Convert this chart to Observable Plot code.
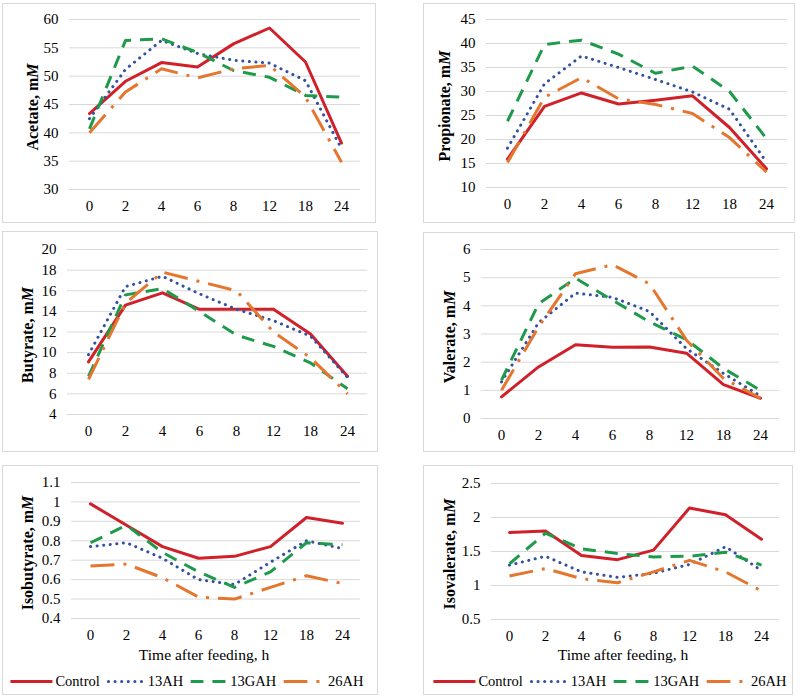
<!DOCTYPE html>
<html><head><meta charset="utf-8">
<script src="https://cdn.jsdelivr.net/npm/d3@7"></script>
<script src="https://cdn.jsdelivr.net/npm/@observablehq/plot@0.6"></script>
<style>
body{margin:0;background:#fff;font-family:"Liberation Serif","Tinos","DejaVu Serif",serif;color:#000;}
#root{position:relative;width:800px;height:700px;overflow:hidden;}
.box{position:absolute;box-sizing:border-box;border:1px solid #d9d9d9;}
.plot{position:absolute;}
.plot svg, .plot svg text{font-family:"Liberation Serif","Tinos","DejaVu Serif",serif !important;}
.ylab{position:absolute;transform:translate(-50%,-50%) rotate(-90deg);white-space:nowrap;font-weight:bold;font-size:16px;}
.xlab{position:absolute;transform:translate(-50%,-50%);white-space:nowrap;font-size:15.5px;}
.legend{position:absolute;transform:translate(-50%,-50%);display:flex;align-items:center;white-space:nowrap;font-size:14.5px;}
.legend .item{display:flex;align-items:center;margin-right:7px;}
.legend .item:last-child{margin-right:0;}
.legend svg{margin-right:3px;}
</style>
</head><body><div id="root"></div>
<script>
// ---------- data ----------
const times = ["0","2","4","6","8","12","18","24"];
const seriesNames = ["Control","13AH","13GAH","26AH"];

const acetateControl = [43.4, 49.1, 52.4, 51.6, 55.7, 58.5, 52.5, 38.2];
const acetate13AH    = [42.5, 51.2, 56.3, 54.0, 52.8, 52.3, 49.2, 37.2];
const acetate13GAH   = [40.7, 56.3, 56.6, 54.2, 51.0, 49.8, 46.6, 46.3];
const acetate26AH    = [40.0, 47.2, 51.3, 49.7, 51.3, 51.9, 46.3, 34.8];

const propionateControl = [15.9, 26.9, 29.7, 27.4, 28.2, 29.1, 22.5, 13.9];
const propionate13AH    = [18.2, 31.6, 37.4, 35.0, 32.5, 29.9, 26.3, 15.3];
const propionate13GAH   = [23.8, 39.8, 40.7, 37.8, 33.8, 35.3, 30.0, 20.2];
const propionate26AH    = [15.2, 28.8, 32.9, 28.5, 27.3, 25.4, 20.4, 13.2];

const butyrateControl = [9.1, 14.6, 15.8, 14.2, 14.2, 14.2, 11.8, 7.7];
const butyrate13AH    = [9.8, 16.4, 17.4, 15.7, 14.2, 13.1, 11.6, 7.6];
const butyrate13GAH   = [7.7, 15.6, 16.2, 14.0, 11.7, 10.6, 9.0, 6.5];
const butyrate26AH    = [7.4, 14.8, 17.8, 16.9, 16.0, 12.0, 9.5, 6.0];

const valerateControl = [0.77, 1.83, 2.62, 2.53, 2.54, 2.32, 1.20, 0.72];
const valerate13AH    = [1.30, 3.40, 4.45, 4.30, 3.80, 2.48, 1.60, 0.80];
const valerate13GAH   = [1.36, 4.07, 4.98, 4.20, 3.43, 2.80, 1.78, 1.00];
const valerate26AH    = [1.00, 3.25, 5.14, 5.46, 4.78, 2.78, 1.42, 0.72];

const isobutyrateControl = [0.99, 0.88, 0.77, 0.71, 0.72, 0.77, 0.92, 0.89];
const isobutyrate13AH    = [0.77, 0.79, 0.71, 0.60, 0.575, 0.69, 0.80, 0.76];
const isobutyrate13GAH   = [0.79, 0.88, 0.74, 0.64, 0.56, 0.64, 0.79, 0.78];
const isobutyrate26AH    = [0.67, 0.68, 0.61, 0.51, 0.50, 0.56, 0.62, 0.58];

const isovalerateControl = [1.78, 1.80, 1.44, 1.38, 1.52, 2.14, 2.04, 1.68];
const isovalerate13AH    = [1.30, 1.43, 1.20, 1.12, 1.18, 1.31, 1.57, 1.22];
const isovalerate13GAH   = [1.32, 1.77, 1.54, 1.47, 1.42, 1.43, 1.49, 1.30];
const isovalerate26AH    = [1.14, 1.25, 1.10, 1.04, 1.20, 1.37, 1.20, 0.92];

const acetateTicks     = [30, 35, 40, 45, 50, 55, 60];
const propionateTicks  = [10, 15, 20, 25, 30, 35, 40, 45];
const butyrateTicks    = [4, 6, 8, 10, 12, 14, 16, 18, 20];
const valerateTicks    = [0, 1, 2, 3, 4, 5, 6];
const isobutyrateTicks = [0.4, 0.5, 0.6, 0.7, 0.8, 0.9, 1.0, 1.1];
const isovalerateTicks = [0.5, 1.0, 1.5, 2.0, 2.5];

const xTitle = "Time after feeding, h";

// ---------- styles ----------
const colors  = ["#d0202a", "#33519f", "#1f9a4a", "#e4762e"];
const dashes  = [null, "0.1,6.5", "13,9", "24,9,3,9"];
const caps    = ["round", "round", "butt", "butt"];
const FONT = "'Liberation Serif','Tinos','DejaVu Serif',serif";

// ---------- layout ----------
const panels = [
  {name:"Acetate", values:[acetateControl,acetate13AH,acetate13GAH,acetate26AH], ticks:acetateTicks,
   box:[2,3,376,223], frame:[69,19,360,189], labX:33},
  {name:"Propionate", values:[propionateControl,propionate13AH,propionate13GAH,propionate26AH], ticks:propionateTicks,
   box:[423,3,795,223], frame:[486,19,787,187], labX:445},
  {name:"Butyrate", values:[butyrateControl,butyrate13AH,butyrate13GAH,butyrate26AH], ticks:butyrateTicks,
   box:[2,231,378,452], frame:[67,249,367,414], labX:28},
  {name:"Valerate", values:[valerateControl,valerate13AH,valerate13GAH,valerate26AH], ticks:valerateTicks,
   box:[423,232,795,452], frame:[481,249,779,418], labX:450},
  {name:"Isobutyrate", values:[isobutyrateControl,isobutyrate13AH,isobutyrate13GAH,isobutyrate26AH], ticks:isobutyrateTicks,
   box:[2,465,378,695], frame:[71,482,360,618], labX:28, bottom:true, xTitleX:204, legendX:187},
  {name:"Isovalerate", values:[isovalerateControl,isovalerate13AH,isovalerate13GAH,isovalerate26AH], ticks:isovalerateTicks,
   box:[423,465,793,695], frame:[491,483,779,619], labX:450, bottom:true, xTitleX:623, legendX:610}
];

const root = document.getElementById("root");
const fmt = d => String(+(+d).toFixed(2));

function legendSample(i, len){
  const ns = "http://www.w3.org/2000/svg";
  const svg = document.createElementNS(ns, "svg");
  svg.setAttribute("width", len); svg.setAttribute("height", 10);
  const l = document.createElementNS(ns, "line");
  l.setAttribute("x1", i===1 ? 2 : 0); l.setAttribute("x2", i===1 ? len-2 : len);
  l.setAttribute("y1", 5); l.setAttribute("y2", 5);
  l.setAttribute("stroke", colors[i]); l.setAttribute("stroke-width", 3);
  if (dashes[i]) l.setAttribute("stroke-dasharray", dashes[i]);
  l.setAttribute("stroke-linecap", caps[i]);
  svg.appendChild(l);
  return svg;
}

for (const p of panels) {
  const [bL,bT,bR,bB] = p.box, [fL,fT,fR,fB] = p.frame;
  const box = document.createElement("div");
  box.className = "box";
  Object.assign(box.style, {left:bL+"px", top:bT+"px", width:(bR-bL)+"px", height:(bB-bT)+"px"});
  root.appendChild(box);

  const rows = [];
  seriesNames.forEach((s,i) => p.values[i].forEach((v,j) => rows.push({time:times[j], value:v, series:s})));

  const chart = Plot.plot({
    width: bR-bL, height: bB-bT,
    marginLeft: fL-bL, marginRight: bR-fR, marginTop: fT-bT, marginBottom: bB-fB,
    style: {fontFamily: FONT, fontSize: "15px", color: "#000", background: "transparent"},
    x: {type: "point", domain: times, padding: 0.5, label: null},
    y: {domain: [p.ticks[0], p.ticks[p.ticks.length-1]], label: null},
    marks: [
      Plot.ruleY(p.ticks, {stroke: "#d9d9d9", strokeWidth: 1}),
      Plot.axisY(p.ticks, {tickSize: 0, tickPadding: 11, tickFormat: fmt, label: null, fontSize: 15, fontFamily: FONT}),
      Plot.axisX({tickSize: 0, tickPadding: 11, label: null, fontSize: 15, fontFamily: FONT}),
      ...seriesNames.map((s,i) => Plot.line(rows.filter(d => d.series === s), {
        x: "time", y: "value", stroke: colors[i], strokeWidth: 3,
        strokeDasharray: dashes[i] || undefined, strokeLinecap: caps[i], strokeLinejoin: "round"
      }))
    ]
  });
  const wrap = document.createElement("div");
  wrap.className = "plot";
  Object.assign(wrap.style, {left:bL+"px", top:bT+"px"});
  wrap.appendChild(chart);
  root.appendChild(wrap);

  const yl = document.createElement("div");
  yl.className = "ylab";
  yl.innerHTML = p.name + ", m<i>M</i>";
  Object.assign(yl.style, {left:p.labX+"px", top:((fT+fB)/2+3)+"px"});
  root.appendChild(yl);

  if (p.bottom) {
    const xl = document.createElement("div");
    xl.className = "xlab";
    xl.textContent = xTitle;
    Object.assign(xl.style, {left:p.xTitleX+"px", top:"655px"});
    root.appendChild(xl);

    const lg = document.createElement("div");
    lg.className = "legend";
    Object.assign(lg.style, {left:p.legendX+"px", top:"681px"});
    const lens = [42, 38, 37, 42];
    seriesNames.forEach((s,i) => {
      const it = document.createElement("div");
      it.className = "item";
      it.appendChild(legendSample(i, lens[i]));
      const t = document.createElement("span");
      t.textContent = s;
      it.appendChild(t);
      lg.appendChild(it);
    });
    root.appendChild(lg);
  }
}
</script>
</body></html>
